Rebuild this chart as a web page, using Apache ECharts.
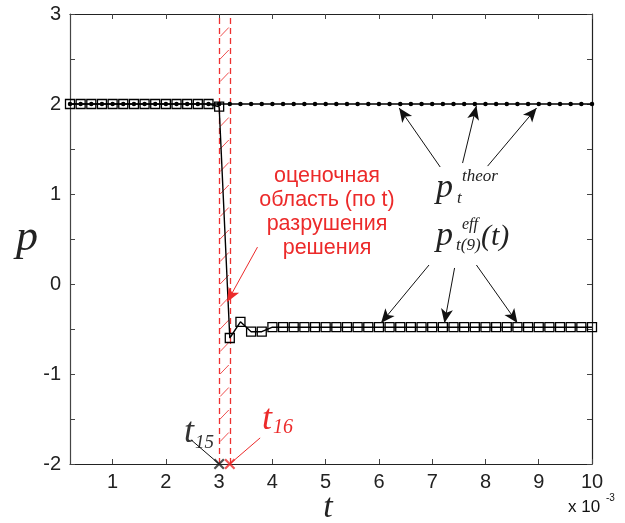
<!DOCTYPE html>
<html><head><meta charset="utf-8">
<script src="https://cdn.jsdelivr.net/npm/echarts@6/dist/echarts.min.js"></script>
<style>html,body{margin:0;padding:0;background:#fff}#c{width:625px;height:523px}</style>
</head><body><div id="c"></div>
<script>
// ---- data (t in units of 10^-3) ----
const tValues = [0.2,0.4,0.6,0.8,1.0,1.2,1.4,1.6,1.8,2.0,
                 2.2,2.4,2.6,2.8,3.0,3.2,3.4,3.6,3.8,4.0,
                 4.2,4.4,4.6,4.8,5.0,5.2,5.4,5.6,5.8,6.0,
                 6.2,6.4,6.6,6.8,7.0,7.2,7.4,7.6,7.8,8.0,
                 8.2,8.4,8.6,8.8,9.0,9.2,9.4,9.6,9.8,10.0];
const pEff = [2,2,2,2,2,2,2,2,2,2,
              2,2,2,2,1.97,-0.60,-0.42,-0.53,-0.53,-0.48,
              -0.48,-0.48,-0.48,-0.48,-0.48,-0.48,-0.48,-0.48,-0.48,-0.48,
              -0.48,-0.48,-0.48,-0.48,-0.48,-0.48,-0.48,-0.48,-0.48,-0.48,
              -0.48,-0.48,-0.48,-0.48,-0.48,-0.48,-0.48,-0.48,-0.48,-0.48];
const pTheor = [2,2,2,2,2,2,2,2,2,2,
                2,2,2,2,2,2,2,2,2,2,
                2,2,2,2,2,2,2,2,2,2,
                2,2,2,2,2,2,2,2,2,2,
                2,2,2,2,2,2,2,2,2,2];
const xTickLabels = [1,2,3,4,5,6,7,8,9,10];
const yTickValues = [-2,-1.5,-1,-0.5,0,0.5,1,1.5,2,2.5,3];
const yTickLabels = [-2,-1,0,1,2,3];
const t15Point = [3.0, -2];
const t16Point = [3.2, -2];
const regionBounds = [3.0, 3.2];
const hatchP = [-1.75,-1.5,-1.25,-1.0,-0.75,-0.5,-0.25,0,0.25,0.5,0.75,1.0,1.25,1.5,1.75,2.25,2.5,2.75];
// annotation arrows: [from, to] in data coords
const arrowsTheor = [[[7.15,1.30],[6.38,1.956]],[[7.57,1.344],[7.83,1.98]],[[8.04,1.31],[8.96,1.956]]];
const arrowsEff = [[[6.94,0.211],[6.04,-0.433]],[[7.42,0.178],[7.23,-0.433]],[[7.83,0.211],[8.60,-0.433]]];
const arrowRed = [[3.72,0.41],[3.15,-0.20]];
const leaderT15 = [[2.47,-1.73],[3.0,-2]];
const leaderT16 = [[3.77,-1.71],[3.2,-2]];

const RED = '#ec2a2a';
const chart = echarts.init(document.getElementById('c'));
const axisFont = {fontFamily:'Liberation Sans', fontSize:20, color:'#222'};
const xSymbol = 'path://M0,1.4L1.4,0L5,3.6L8.6,0L10,1.4L6.4,5L10,8.6L8.6,10L5,6.4L1.4,10L0,8.6L3.6,5Z';

function mkLines(list, arrow){
  return list.map(s => [{coord:s[0], symbol:'none'},{coord:s[1], symbol: arrow ? 'arrow':'none', symbolSize: arrow? [9,14]:0}]);
}

const option = {
  animation:false,
  backgroundColor:'#fff',
  grid:{left:70,right:33,top:14,bottom:59,containLabel:false},
  xAxis:[{
    type:'value',min:0.2,max:10,
    axisLine:{show:true,onZero:false,lineStyle:{color:'#222',width:1.2}},
    axisTick:{show:true,inside:true,length:5,customValues:xTickLabels,lineStyle:{color:'#444'}},
    axisLabel:Object.assign({customValues:xTickLabels,margin:8},axisFont),
    splitLine:{show:false}
  },{
    type:'value',min:0.2,max:10,position:'top',
    axisLine:{show:true,onZero:false,lineStyle:{color:'#222',width:1.2}},
    axisTick:{show:true,inside:true,length:5,customValues:xTickLabels,lineStyle:{color:'#444'}},
    axisLabel:{show:false},splitLine:{show:false}
  }],
  yAxis:[{
    type:'value',min:-2,max:3,interval:0.5,
    axisLine:{show:true,onZero:false,lineStyle:{color:'#444',width:1.2}},
    axisTick:{show:true,inside:true,length:5,customValues:yTickValues,lineStyle:{color:'#444'}},
    axisLabel:Object.assign({customValues:yTickLabels,margin:9},axisFont),
    splitLine:{show:false}
  },{
    type:'value',min:-2,max:3,interval:0.5,position:'right',
    axisLine:{show:true,onZero:false,lineStyle:{color:'#222',width:1.2}},
    axisTick:{show:true,inside:true,length:5,customValues:yTickValues,lineStyle:{color:'#444'}},
    axisLabel:{show:false},splitLine:{show:false}
  }],
  series:[
    { // hatched estimate region
      type:'custom', z:1, silent:true,
      data: hatchP.map(p=>[p]),
      renderItem:(params,api)=>{
        const p = api.value(0);
        const a = api.coord([regionBounds[0], p]);
        const b = api.coord([regionBounds[1], p+0.1]);
        return {type:'line',shape:{x1:a[0]+1,y1:a[1],x2:b[0]-1,y2:b[1]},style:{stroke:'#f05050',lineWidth:1}};
      }
    },
    { // region bounds
      type:'custom', z:2, silent:true,
      data: regionBounds.map(b=>[b]),
      renderItem:(params,api)=>{
        const t = api.value(0);
        const a = api.coord([t, -2]);
        const b = api.coord([t, 3]);
        return {type:'line',shape:{x1:Math.round(a[0])+0.5,y1:a[1],x2:Math.round(b[0])+0.5,y2:b[1]},style:{stroke:'#ee3030',lineWidth:1.3,lineDash:[6,4]}};
      }
    },
    {
      name:'theor', type:'line', z:3, silent:true,
      data: tValues.map((t,i)=>[t,pTheor[i]]),
      symbol:'circle', symbolSize:4.5, showAllSymbol:true,
      itemStyle:{color:'#000'}, lineStyle:{color:'#000',width:1.6},
      emphasis:{disabled:true}
    },
    {
      name:'eff', type:'line', z:4, silent:true,
      data: tValues.map((t,i)=>[t,pEff[i]]),
      symbol:'rect', symbolSize:9, showAllSymbol:true,
      itemStyle:{color:'rgba(0,0,0,0)',borderColor:'#000',borderWidth:1.3},
      lineStyle:{color:'#000',width:1.4},
      emphasis:{disabled:true}
    },
    { // black annotation arrows
      type:'line', data:[], z:5, silent:true,
      markLine:{
        silent:true, animation:false, label:{show:false},
        lineStyle:{color:'#111',type:'solid',width:1},
        emphasis:{disabled:true},
        data: mkLines(arrowsTheor.concat(arrowsEff),true).concat(mkLines([leaderT15],false))
      }
    },
    { // red annotation
      type:'line', data:[], z:5, silent:true,
      markLine:{
        silent:true, animation:false, label:{show:false},
        lineStyle:{color:RED,type:'solid',width:1},
        emphasis:{disabled:true},
        data: mkLines([arrowRed],true).concat(mkLines([leaderT16],false))
      }
    },
    {
      type:'scatter', z:6, silent:true, clip:false,
      data:[t15Point], symbol:xSymbol, symbolSize:11, itemStyle:{color:'#222'}
    },
    {
      type:'scatter', z:6, silent:true, clip:false,
      data:[t16Point], symbol:xSymbol, symbolSize:11, itemStyle:{color:RED}
    }
  ],
  graphic:[
    {type:'text',style:{text:'p',x:27,y:238,align:'center',verticalAlign:'middle',font:'italic 44px "Liberation Serif"',fill:'#222'}},
    {type:'text',style:{text:'t',x:328,y:508,align:'center',verticalAlign:'middle',font:'italic 34px "Liberation Serif"',fill:'#222'}},
    {type:'text',style:{text:'x 10',x:568,y:507,align:'left',verticalAlign:'middle',font:'17px "Liberation Sans"',fill:'#111'}},
    {type:'text',style:{text:'-3',x:606,y:498,align:'left',verticalAlign:'middle',font:'10px "Liberation Sans"',fill:'#111'}},
    // red region label
    {type:'text',style:{text:'оценочная\nобласть (по t)\nразрушения\nрешения',x:327,y:212,align:'center',verticalAlign:'middle',lineHeight:24,font:'21.5px "Liberation Sans"',fill:RED}},
    // p_t^theor
    {type:'text',style:{text:'p',x:436,y:188,align:'left',verticalAlign:'middle',font:'italic 34px "Liberation Serif"',fill:'#222'}},
    {type:'text',style:{text:'t',x:457,y:199,align:'left',verticalAlign:'middle',font:'italic 17px "Liberation Serif"',fill:'#222'}},
    {type:'text',style:{text:'theor',x:462,y:177,align:'left',verticalAlign:'middle',font:'italic 17px "Liberation Serif"',fill:'#222'}},
    // p_{t(9)}^{eff}(t)
    {type:'text',style:{text:'p',x:436,y:236,align:'left',verticalAlign:'middle',font:'italic 34px "Liberation Serif"',fill:'#222'}},
    {type:'text',style:{text:'eff',x:462,y:225,align:'left',verticalAlign:'middle',font:'italic 16px "Liberation Serif"',fill:'#222'}},
    {type:'text',style:{text:'t(9)',x:456,y:246,align:'left',verticalAlign:'middle',font:'italic 17px "Liberation Serif"',fill:'#222'}},
    {type:'text',style:{text:'(t)',x:481,y:237,align:'left',verticalAlign:'middle',font:'italic 30px "Liberation Serif"',fill:'#222'}},
    // t15
    {type:'text',style:{text:'t',x:184,y:433,align:'left',verticalAlign:'middle',font:'italic 36px "Liberation Serif"',fill:'#333'}},
    {type:'text',style:{text:'15',x:195,y:443,align:'left',verticalAlign:'middle',font:'italic 19px "Liberation Serif"',fill:'#333'}},
    // t16
    {type:'text',style:{text:'t',x:262,y:420,align:'left',verticalAlign:'middle',font:'italic 36px "Liberation Serif"',fill:RED}},
    {type:'text',style:{text:'16',x:273,y:428,align:'left',verticalAlign:'middle',font:'italic 20px "Liberation Serif"',fill:RED}}
  ]
};
chart.setOption(option);
</script></body></html>
